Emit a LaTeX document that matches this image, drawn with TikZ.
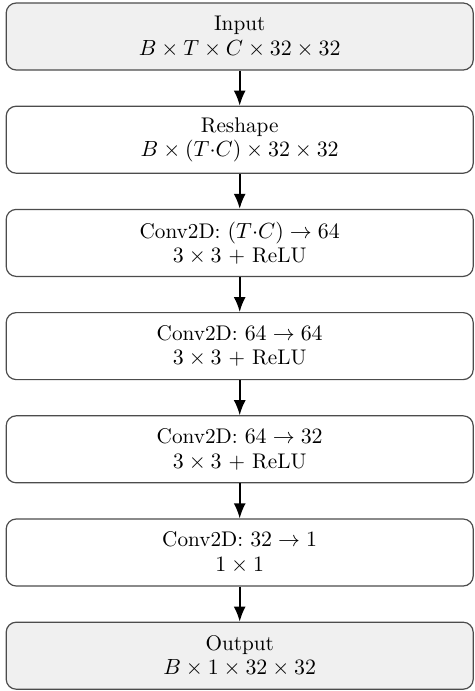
\documentclass[tikz,border=0pt]{standalone}
\usetikzlibrary{arrows.meta}
\begin{document}
\begin{tikzpicture}[x=0.5pt,y=-0.5pt,
  layer/.style={draw=black!70, line width=0.6pt, rounded corners=5pt, fill=white,
    minimum width=233.5pt, minimum height=33.5pt, inner sep=0pt, align=center,
    font=\fontsize{10.6pt}{12.2pt}\selectfont},
  io/.style={layer, fill=black!6},
  flow/.style={-{Latex[length=7.5pt,width=6pt]}, line width=0.85pt}]
\useasboundingbox (0,0) rectangle (475,691);
\node[io]    (in)  at (239.7,36.5)  {Input\\$B \times T \times C \times 32 \times 32$};
\node[layer] (rs)  at (239.7,139.7) {Reshape\\$B \times (T{\cdot}C) \times 32 \times 32$};
\node[layer] (c1)  at (239.7,242.9) {Conv2D: $(T{\cdot}C) \rightarrow 64$\\$3 \times 3$ + ReLU};
\node[layer] (c2)  at (239.7,346.1) {Conv2D: $64 \rightarrow 64$\\$3 \times 3$ + ReLU};
\node[layer] (c3)  at (239.7,449.3) {Conv2D: $64 \rightarrow 32$\\$3 \times 3$ + ReLU};
\node[layer] (c4)  at (239.7,552.5) {Conv2D: $32 \rightarrow 1$\\$1 \times 1$};
\node[io]    (out) at (239.7,655.7) {Output\\$B \times 1 \times 32 \times 32$};
\draw[flow] (in) -- (rs);
\draw[flow] (rs) -- (c1);
\draw[flow] (c1) -- (c2);
\draw[flow] (c2) -- (c3);
\draw[flow] (c3) -- (c4);
\draw[flow] (c4) -- (out);
\end{tikzpicture}
\end{document}
